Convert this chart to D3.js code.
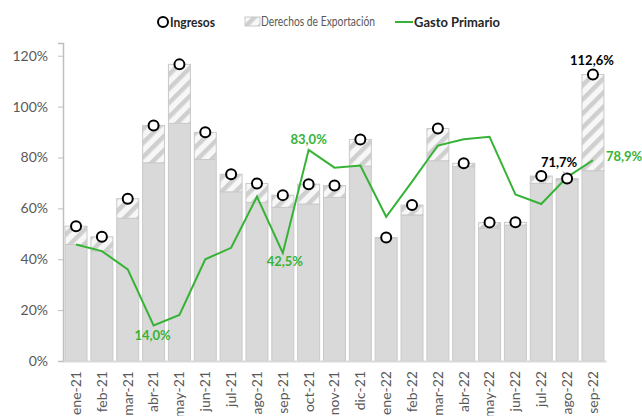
<!DOCTYPE html>
<meta charset="utf-8">
<style>
body { margin: 0; background: #fff; }
text { font-family: Lato, "Noto Sans", sans-serif; }
</style>
<body>
<div id="chart"></div>
<script src="https://d3js.org/d3.v7.min.js"></script>
<script>
// months on the x axis
var months = ["ene-21","feb-21","mar-21","abr-21","may-21","jun-21","jul-21","ago-21","sep-21","oct-21","nov-21","dic-21",
              "ene-22","feb-22","mar-22","abr-22","may-22","jun-22","jul-22","ago-22","sep-22"];
// Ingresos (total, %)
var ingresos = [53.0, 48.8, 63.8, 92.6, 116.6, 89.9, 73.4, 69.8, 65.2, 69.5, 69.0, 87.1,
                48.5, 61.3, 91.4, 77.7, 54.4, 54.5, 72.7, 71.7, 112.6];
// Derechos de Exportación (hatched part, %)
var derechos = [7.2, 5.6, 7.7, 14.7, 23.2, 10.7, 6.9, 7.5, 4.8, 7.8, 4.7, 10.5,
                0.2, 3.9, 12.7, 1.3, 2.3, 1.1, 2.9, 0.5, 37.8];
// Gasto Primario (%)
var gasto = [45.8, 43.2, 36.0, 14.0, 18.1, 40.0, 44.5, 64.6, 42.5, 83.0, 76.0, 76.8,
             56.7, 70.5, 84.7, 87.2, 88.1, 65.5, 61.7, 72.3, 78.9];
var yTicks = [0, 20, 40, 60, 80, 100, 120];

var width = 642, height = 416;
var green = "#36b336";

var svg = d3.select("#chart").append("svg")
    .attr("width", width)
    .attr("height", height);

// hatch pattern
var defs = svg.append("defs");
var pat = defs.append("pattern")
    .attr("id", "hatch")
    .attr("patternUnits", "userSpaceOnUse")
    .attr("width", 10).attr("height", 10)
    .attr("patternTransform", "rotate(45)");
pat.append("rect").attr("width", 10).attr("height", 10).attr("fill", "#f7f7f7");
pat.append("rect").attr("width", 4.5).attr("height", 10).attr("fill", "#cfcfcf");

var x = d3.scaleBand().domain(months).range([63, 606]).paddingInner(0.15).paddingOuter(0.08);
var y = d3.scaleLinear().domain([0, 125]).range([361, 43]);

// Y axis
var yAxis = svg.append("g")
    .attr("transform", "translate(63,0)")
    .call(d3.axisLeft(y).tickValues(yTicks).tickSize(5).tickPadding(10)
        .tickFormat(function(d) { return d + "%"; }));
yAxis.select(".domain").attr("stroke", "#bfbfbf").attr("stroke-width", 1.5);
yAxis.selectAll(".tick line").attr("stroke", "#bfbfbf");
yAxis.selectAll("text").attr("fill", "#595959").style("font-size", "14px");

var data = months.map(function(m, i) {
    return {m: m, total: ingresos[i], base: ingresos[i] - derechos[i], gasto: gasto[i]};
});

// base bars
svg.selectAll(".base").data(data).enter().append("rect")
    .attr("class", "base")
    .attr("x", function(d) { return x(d.m); })
    .attr("width", x.bandwidth())
    .attr("y", function(d) { return y(d.base); })
    .attr("height", function(d) { return y(0) - y(d.base); })
    .attr("fill", "#d9d9d9")
    .attr("stroke", "#c9c9c9");

// hatched bars
svg.selectAll(".der").data(data).enter().append("rect")
    .attr("class", "der")
    .attr("x", function(d) { return x(d.m); })
    .attr("width", x.bandwidth())
    .attr("y", function(d) { return y(d.total); })
    .attr("height", function(d) { return y(d.base) - y(d.total); })
    .attr("fill", "url(#hatch)")
    .attr("stroke", "#c9c9c9");

// X axis
var xAxis = svg.append("g")
    .attr("transform", "translate(0,361)")
    .call(d3.axisBottom(x).tickSize(0).tickPadding(0));
xAxis.select(".domain").attr("stroke", "#d9d9d9").attr("stroke-width", 2);
xAxis.selectAll("text")
    .attr("transform", "rotate(-90)")
    .attr("text-anchor", "end")
    .attr("x", -10)
    .attr("y", 0)
    .attr("dy", "0.35em")
    .attr("fill", "#595959")
    .style("font-size", "14px");

// Gasto line
var line = d3.line()
    .x(function(d) { return x(d.m) + x.bandwidth() / 2; })
    .y(function(d) { return y(d.gasto); });
svg.append("path")
    .datum(data)
    .attr("d", line)
    .attr("fill", "none")
    .attr("stroke", green)
    .attr("stroke-width", 2);

// Ingresos circles
svg.selectAll(".ing").data(data).enter().append("circle")
    .attr("cx", function(d) { return x(d.m) + x.bandwidth() / 2; })
    .attr("cy", function(d) { return y(d.total); })
    .attr("r", 5)
    .attr("fill", "#fff")
    .attr("stroke", "#000")
    .attr("stroke-width", 2);

// value labels
function cx(m) { return x(m) + x.bandwidth() / 2; }
var labels = [
    {m: "abr-21", v: gasto[3], dx: -1, dy: 15, c: green, t: "14,0%", a: "middle"},
    {m: "sep-21", v: gasto[8], dx: 2, dy: 13, c: green, t: "42,5%", a: "middle"},
    {m: "oct-21", v: gasto[9], dx: 0, dy: -6, c: green, t: "83,0%", a: "middle"},
    {m: "sep-22", v: ingresos[20], dx: -1, dy: -10, c: "#000", t: "112,6%", a: "middle"},
    {m: "ago-22", v: ingresos[19], dx: -8, dy: -12, c: "#000", t: "71,7%", a: "middle"},
    {m: "sep-22", v: gasto[20], dx: 13, dy: 1, c: green, t: "78,9%", a: "start"}
];
svg.selectAll(".lbl").data(labels).enter().append("text")
    .attr("x", function(d) { return cx(d.m) + d.dx; })
    .attr("y", function(d) { return y(d.v) + d.dy; })
    .attr("text-anchor", function(d) { return d.a; })
    .attr("fill", function(d) { return d.c; })
    .attr("font-weight", "bold")
    .style("font-size", "13px")
    .text(function(d) { return d.t; });

// small leader line for 71,7%
svg.append("line")
    .attr("x1", cx("ago-22") - 4).attr("y1", y(ingresos[19]) - 7)
    .attr("x2", cx("ago-22") - 1).attr("y2", y(ingresos[19]) - 4)
    .attr("stroke", "#7f7f7f").attr("stroke-width", 1);

// legend
var lg = svg.append("g");
lg.append("circle").attr("cx", 163).attr("cy", 22).attr("r", 5)
    .attr("fill", "#fff").attr("stroke", "#000").attr("stroke-width", 2);
lg.append("text").attr("x", 170).attr("y", 27).attr("fill", "#262626")
    .attr("font-weight", "bold").style("font-size", "14px")
    .attr("textLength", 45).attr("lengthAdjust", "spacingAndGlyphs").text("Ingresos");
lg.append("rect").attr("x", 245).attr("y", 17).attr("width", 15).attr("height", 9)
    .attr("fill", "url(#hatch)").attr("stroke", "#c9c9c9");
lg.append("text").attr("x", 261).attr("y", 26).attr("fill", "#595959")
    .style("font-size", "13px")
    .attr("textLength", 114).attr("lengthAdjust", "spacingAndGlyphs").text("Derechos de Exportación");
lg.append("line").attr("x1", 395).attr("x2", 413).attr("y1", 22).attr("y2", 22)
    .attr("stroke", green).attr("stroke-width", 2);
lg.append("text").attr("x", 414).attr("y", 27).attr("fill", "#262626")
    .attr("font-weight", "bold").style("font-size", "14px")
    .attr("textLength", 86).attr("lengthAdjust", "spacingAndGlyphs").text("Gasto Primario");
</script>
</body>
